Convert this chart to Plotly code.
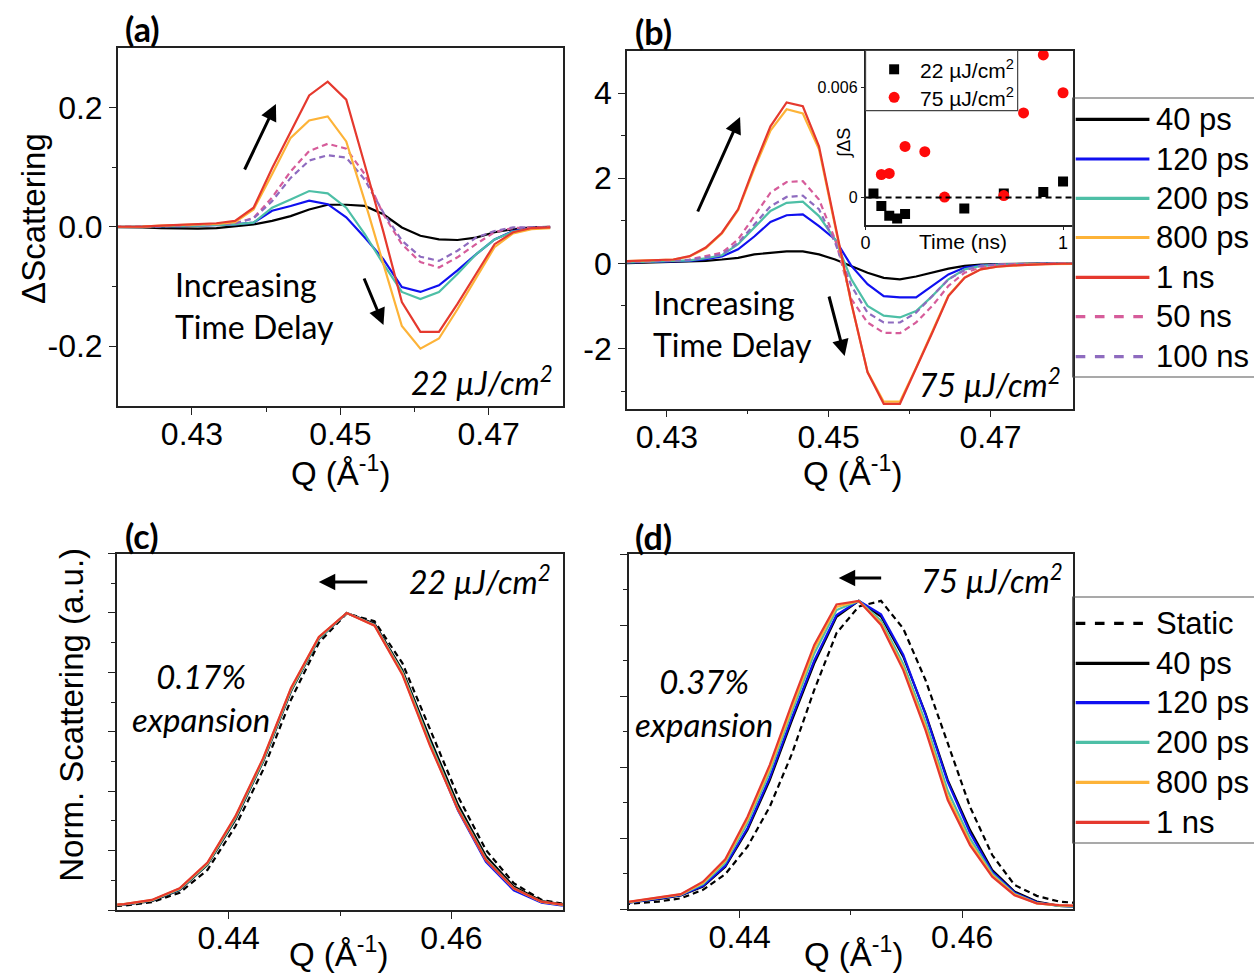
import plotly.graph_objects as go

# ---------------- data ----------------
# Panel (a): 22 uJ/cm2, difference scattering
q_a = [0.4183, 0.4208, 0.4233, 0.4258, 0.4283, 0.4308, 0.4333, 0.4358, 0.4383, 0.4408, 0.4433, 0.4458,
       0.4483, 0.4508, 0.4533, 0.4558, 0.4583, 0.4608, 0.4633, 0.4658, 0.4683, 0.4708, 0.4733, 0.4758, 0.4783]
a_40ps = [0, 0, -0.001, -0.002, -0.003, -0.003, -0.002, 0.001, 0.004, 0.010, 0.018, 0.029, 0.037, 0.037, 0.035,
          0.021, -0.001, -0.015, -0.021, -0.022, -0.018, -0.009, -0.004, -0.001, 0]
a_120ps = [0, 0, 0, 0.0005, 0.001, 0.002, 0.003, 0.004, 0.007, 0.027, 0.035, 0.044, 0.038, 0.016, -0.018,
           -0.054, -0.101, -0.109, -0.098, -0.073, -0.046, -0.021, -0.007, -0.002, -0.001]
a_200ps = [0, 0, 0, 0.0005, 0.001, 0.002, 0.003, 0.004, 0.007, 0.032, 0.046, 0.060, 0.056, 0.032, -0.012,
           -0.062, -0.109, -0.121, -0.109, -0.079, -0.046, -0.021, -0.008, -0.003, -0.001]
a_800ps = [0, 0, 0.0005, 0.002, 0.003, 0.004, 0.005, 0.008, 0.029, 0.088, 0.149, 0.178, 0.185, 0.143, 0.043,
           -0.062, -0.166, -0.204, -0.187, -0.138, -0.086, -0.034, -0.011, -0.004, -0.002]
a_1ns = [0, 0, 0.0005, 0.002, 0.003, 0.004, 0.006, 0.010, 0.032, 0.098, 0.159, 0.220, 0.243, 0.213, 0.104,
         -0.008, -0.126, -0.176, -0.176, -0.129, -0.079, -0.029, -0.009, -0.002, -0.001]
a_50ns = [0, 0, 0, 0.001, 0.002, 0.003, 0.004, 0.006, 0.015, 0.049, 0.093, 0.127, 0.139, 0.131, 0.088,
          0.021, -0.029, -0.059, -0.068, -0.051, -0.029, -0.009, -0.002, -0.001, 0]
a_100ns = [0, 0, 0, 0.001, 0.002, 0.003, 0.004, 0.006, 0.014, 0.043, 0.082, 0.111, 0.120, 0.116, 0.079,
           0.024, -0.023, -0.050, -0.057, -0.040, -0.018, -0.007, -0.001, -0.001, -0.001]

# Panel (b): 75 uJ/cm2, difference scattering
q_b = [0.4248, 0.4268, 0.4288, 0.4308, 0.4328, 0.4348, 0.4368, 0.4388, 0.4408, 0.4428, 0.4448, 0.4468,
       0.4488, 0.4508, 0.4528, 0.4548, 0.4568, 0.4588, 0.4608, 0.4628, 0.4648, 0.4668, 0.4688, 0.4708,
       0.4728, 0.4748, 0.4768, 0.4788, 0.4808]
b_40ps = [0, 0.01, 0.02, 0.03, 0.04, 0.06, 0.09, 0.13, 0.21, 0.25, 0.28, 0.28, 0.21, 0.09, -0.06, -0.22,
          -0.34, -0.375, -0.31, -0.22, -0.125, -0.06, -0.03, -0.02, -0.01, -0.01, 0, 0, 0]
b_120ps = [0.02, 0.03, 0.03, 0.04, 0.06, 0.10, 0.16, 0.33, 0.63, 0.97, 1.13, 1.15, 0.875, 0.56, -0.06, -0.49,
           -0.77, -0.80, -0.80, -0.53, -0.26, -0.10, -0.05, -0.03, -0.02, -0.01, 0, 0, 0]
b_200ps = [0.02, 0.03, 0.04, 0.05, 0.07, 0.12, 0.19, 0.45, 0.84, 1.23, 1.42, 1.45, 1.11, 0.56, -0.375, -1.00,
           -1.23, -1.27, -1.12, -0.77, -0.375, -0.14, -0.06, -0.03, -0.02, -0.01, 0, 0, 0]
b_800ps = [0.05, 0.06, 0.07, 0.09, 0.16, 0.35, 0.70, 1.25, 2.22, 3.12, 3.62, 3.52, 2.68, 0.85, -0.95, -2.55,
           -3.25, -3.25, -2.45, -1.60, -0.75, -0.33, -0.14, -0.08, -0.05, -0.03, -0.02, -0.01, -0.01]
b_1ns = [0.05, 0.06, 0.08, 0.09, 0.17, 0.37, 0.72, 1.27, 2.28, 3.22, 3.78, 3.69, 2.75, 0.89, -0.93, -2.56,
         -3.30, -3.30, -2.48, -1.63, -0.77, -0.34, -0.14, -0.08, -0.05, -0.03, -0.02, -0.01, -0.01]
b_50ns = [0.03, 0.04, 0.05, 0.07, 0.09, 0.17, 0.25, 0.56, 1.11, 1.66, 1.91, 1.93, 1.50, 0.56, -0.84, -1.39,
          -1.63, -1.64, -1.39, -1.00, -0.53, -0.22, -0.10, -0.03, -0.02, -0.01, 0, 0, 0]
b_100ns = [0.03, 0.04, 0.05, 0.06, 0.08, 0.14, 0.21, 0.48, 0.91, 1.34, 1.56, 1.59, 1.27, 0.48, -0.53, -1.16,
           -1.39, -1.39, -1.16, -0.77, -0.375, -0.16, -0.06, -0.03, -0.02, -0.01, 0, 0, 0]

# Inset: integrated difference signal vs time
t_22 = [0.04, 0.08, 0.12, 0.16, 0.20, 0.50, 0.70, 0.90, 1.00]
s_22 = [0.00022, -0.00047, -0.0010, -0.00115, -0.0009, -0.0006, 0.00022, 0.0003, 0.00087]
t_75 = [0.08, 0.12, 0.20, 0.30, 0.40, 0.70, 0.80, 0.90, 1.00]
s_75 = [0.00125, 0.00131, 0.00278, 0.00249, 0.00002, 0.0001, 0.0046, 0.00776, 0.0057]

# Panel (c): 22 uJ/cm2, normalized scattering
q_c = [0.4281, 0.4306, 0.4331, 0.4356, 0.4381, 0.4406, 0.4431, 0.4456, 0.4481, 0.4506, 0.4531, 0.4556,
       0.4581, 0.4606, 0.4631, 0.4656, 0.4681, 0.4706]
c_static = [0.011, 0.015, 0.026, 0.058, 0.135, 0.281, 0.472, 0.708, 0.899, 0.998, 0.972, 0.831, 0.607, 0.382,
            0.202, 0.090, 0.034, 0.017]
c_40ps = [0.013, 0.018, 0.030, 0.067, 0.152, 0.303, 0.500, 0.736, 0.912, 1.000, 0.964, 0.807, 0.575, 0.354,
          0.182, 0.079, 0.030, 0.016]
c_120ps = [0.013, 0.019, 0.032, 0.070, 0.156, 0.310, 0.505, 0.742, 0.915, 1.000, 0.960, 0.798, 0.558, 0.335,
           0.162, 0.066, 0.025, 0.012]
c_200ps = [0.013, 0.019, 0.032, 0.070, 0.155, 0.308, 0.503, 0.740, 0.914, 1.000, 0.960, 0.800, 0.562, 0.342,
           0.172, 0.074, 0.028, 0.014]
c_800ps = [0.013, 0.020, 0.033, 0.072, 0.158, 0.313, 0.509, 0.745, 0.918, 1.000, 0.958, 0.795, 0.554, 0.338,
           0.168, 0.072, 0.027, 0.014]
c_1ns = [0.013, 0.020, 0.034, 0.073, 0.160, 0.315, 0.511, 0.747, 0.919, 1.000, 0.957, 0.792, 0.551, 0.337,
         0.169, 0.073, 0.028, 0.015]

# Panel (d): 75 uJ/cm2, normalized scattering
q_d = [0.4287, 0.4307, 0.4327, 0.4347, 0.4367, 0.4387, 0.4407, 0.4427, 0.4447, 0.4467, 0.4487, 0.4507,
       0.4527, 0.4547, 0.4567, 0.4587, 0.4607, 0.4627, 0.4647, 0.4667, 0.4687, 0.4707]
d_static = [0.011, 0.016, 0.021, 0.030, 0.054, 0.098, 0.176, 0.288, 0.438, 0.617, 0.777, 0.852, 0.868, 0.790,
            0.645, 0.467, 0.288, 0.152, 0.068, 0.037, 0.021, 0.016]
d_40ps = [0.013, 0.020, 0.028, 0.038, 0.063, 0.119, 0.223, 0.363, 0.532, 0.692, 0.823, 0.868, 0.824, 0.711,
          0.551, 0.363, 0.223, 0.110, 0.049, 0.021, 0.009, 0.007]
d_120ps = [0.013, 0.020, 0.029, 0.039, 0.065, 0.122, 0.228, 0.370, 0.540, 0.700, 0.828, 0.868, 0.830, 0.716,
           0.548, 0.358, 0.215, 0.105, 0.046, 0.019, 0.009, 0.007]
d_200ps = [0.013, 0.021, 0.031, 0.040, 0.070, 0.130, 0.243, 0.386, 0.557, 0.720, 0.842, 0.868, 0.812, 0.690,
           0.527, 0.333, 0.199, 0.100, 0.043, 0.017, 0.009, 0.007]
d_800ps = [0.014, 0.022, 0.032, 0.041, 0.074, 0.136, 0.252, 0.396, 0.568, 0.733, 0.851, 0.868, 0.805, 0.680,
           0.514, 0.318, 0.188, 0.095, 0.041, 0.016, 0.010, 0.008]
d_1ns = [0.014, 0.023, 0.033, 0.042, 0.077, 0.140, 0.260, 0.406, 0.579, 0.744, 0.858, 0.868, 0.800, 0.673,
         0.504, 0.307, 0.180, 0.091, 0.039, 0.016, 0.011, 0.009]

labels_top = ["40 ps", "120 ps", "200 ps", "800 ps", "1 ns", "50 ns", "100 ns"]
labels_bot = ["Static", "40 ps", "120 ps", "200 ps", "800 ps", "1 ns"]
inset_labels = ["22 \u00b5J/cm<sup>2</sup>", "75 \u00b5J/cm<sup>2</sup>"]

# ---------------- styles ----------------
C = {"40 ps": "#000000", "120 ps": "#1010F0", "200 ps": "#4DBFA6", "800 ps": "#FDB338",
     "1 ns": "#E5392E", "50 ns": "#D65C9A", "100 ns": "#8E6BBF", "Static": "#000000"}
DASHED = {"50 ns", "100 ns", "Static"}

W, H = 1254, 975
def px(x):
    return x / W
def py(y):
    return 1 - y / H

SANS = "Liberation Sans, Arial, sans-serif"
HUM = "Lato, Carlito, Calibri, sans-serif"

fig = go.Figure()

def add_line(x, y, name, xa, ya, width=2.2):
    dash = "6px,4px" if name in DASHED else "solid"
    fig.add_trace(go.Scatter(x=x, y=y, mode="lines", name=name, showlegend=False,
                             line=dict(color=C[name], width=width, dash=dash),
                             xaxis=xa, yaxis=ya))

for name, ys in [("40 ps", a_40ps), ("120 ps", a_120ps), ("200 ps", a_200ps), ("50 ns", a_50ns),
                 ("100 ns", a_100ns), ("800 ps", a_800ps), ("1 ns", a_1ns)]:
    add_line(q_a, ys, name, "x", "y")
for name, ys in [("40 ps", b_40ps), ("120 ps", b_120ps), ("200 ps", b_200ps), ("50 ns", b_50ns),
                 ("100 ns", b_100ns), ("800 ps", b_800ps), ("1 ns", b_1ns)]:
    add_line(q_b, ys, name, "x2", "y2")
for name, ys in [("Static", c_static), ("40 ps", c_40ps), ("120 ps", c_120ps), ("200 ps", c_200ps),
                 ("800 ps", c_800ps), ("1 ns", c_1ns)]:
    add_line(q_c, ys, name, "x4", "y4")
for name, ys in [("Static", d_static), ("40 ps", d_40ps), ("120 ps", d_120ps), ("200 ps", d_200ps),
                 ("800 ps", d_800ps), ("1 ns", d_1ns)]:
    add_line(q_d, ys, name, "x5", "y5")

fig.add_trace(go.Scatter(x=t_22, y=s_22, mode="markers", name=inset_labels[0], showlegend=False,
                         marker=dict(symbol="square", size=10, color="#000000"), xaxis="x3", yaxis="y3"))
fig.add_trace(go.Scatter(x=t_75, y=s_75, mode="markers", name=inset_labels[1], showlegend=False,
                         marker=dict(symbol="circle", size=11, color="#FF0A0A"), xaxis="x3", yaxis="y3"))

axis_common = dict(showline=True, linecolor="#222222", linewidth=1.6, mirror=True, showgrid=False,
                   zeroline=False, ticks="outside", ticklen=7, tickwidth=1.4, tickcolor="#222222",
                   tickfont=dict(family=SANS, size=32, color="#000000"))

def minor(vals, ln=4):
    return dict(tickvals=vals, ticks="outside", ticklen=ln, tickwidth=1.3, tickcolor="#222222", showgrid=False)

XSTAND = -8
layout = dict(
    width=W, height=H, margin=dict(l=0, r=0, t=0, b=0),
    paper_bgcolor="white", plot_bgcolor="white", showlegend=False,
    font=dict(family=SANS, color="#000000"),
    xaxis=dict(axis_common, domain=[px(113.3), px(560)], range=[0.42, 0.48], anchor="y",
               tickmode="array", tickvals=[0.43, 0.45, 0.47], ticktext=["0.43", "0.45", "0.47"],
               ticklabelstandoff=XSTAND, minor=minor([0.44, 0.46])),
    yaxis=dict(axis_common, domain=[py(406), py(47.7)], range=[-0.3, 0.3], anchor="x",
               tickmode="array", tickvals=[-0.2, 0, 0.2], ticktext=["-0.2", "0.0", "0.2"],
               minor=minor([-0.1, 0.1])),
    xaxis2=dict(axis_common, domain=[px(624.5), px(1072)], range=[0.42507, 0.48016], anchor="y2",
                tickmode="array", tickvals=[0.43, 0.45, 0.47], ticktext=["0.43", "0.45", "0.47"],
                ticklabelstandoff=XSTAND, minor=minor([0.44, 0.46])),
    yaxis2=dict(axis_common, domain=[py(408.5), py(50.5)], range=[-3.41, 5.0], anchor="x2",
                tickmode="array", tickvals=[-2, 0, 2, 4], ticktext=["-2", "0", "2", "4"],
                minor=minor([-3, -1, 1, 3])),
    xaxis3=dict(axis_common, domain=[px(864), px(1072)], range=[0, 1.049], anchor="y3",
                tickmode="array", tickvals=[0, 1], ticktext=["0", "1"], ticklen=3,
                ticklabelstandoff=-2,
                tickfont=dict(family=SANS, size=18, color="#000000")),
    yaxis3=dict(axis_common, domain=[py(225), py(50.5)], range=[-0.0015, 0.0080], anchor="x3",
                tickmode="array", tickvals=[0, 0.006], ticktext=["0", "0.006"], ticklen=3,
                tickfont=dict(family=SANS, size=16, color="#000000")),
    xaxis4=dict(axis_common, domain=[px(112.7), px(560)], range=[0.43, 0.47], anchor="y4",
                tickmode="array", tickvals=[0.44, 0.46], ticktext=["0.44", "0.46"],
                ticklabelstandoff=XSTAND, minor=minor([0.45])),
    yaxis4=dict(axis_common, domain=[py(910), py(553.5)], range=[0, 1.2], anchor="x4",
                tickmode="array", tickvals=[0, 0.2, 0.4, 0.6, 0.8, 1.0, 1.2], showticklabels=False,
                minor=minor([0.1, 0.3, 0.5, 0.7, 0.9, 1.1])),
    xaxis5=dict(axis_common, domain=[px(626), px(1072.7)], range=[0.43, 0.47], anchor="y5",
                tickmode="array", tickvals=[0.44, 0.46], ticktext=["0.44", "0.46"],
                ticklabelstandoff=XSTAND, minor=minor([0.45])),
    yaxis5=dict(axis_common, domain=[py(909), py(554)], range=[0, 1.0], anchor="x5",
                tickmode="array", tickvals=[0, 0.2, 0.4, 0.6, 0.8, 1.0], showticklabels=False,
                minor=minor([0.1, 0.3, 0.5, 0.7, 0.9])),
)
fig.update_layout(**layout)

ann = []
shapes = []

def text(x, y, s, size, family=SANS, xanchor="center", yanchor="middle", angle=0, align="center"):
    ann.append(dict(x=px(x), y=py(y), xref="paper", yref="paper", text=s, showarrow=False,
                    xanchor=xanchor, yanchor=yanchor, textangle=angle, align=align,
                    font=dict(family=family, size=size, color="#000000")))

def arrow(tx, ty, hx, hy):
    ann.append(dict(x=px(hx), y=py(hy), xref="paper", yref="paper", ax=tx - hx, ay=ty - hy,
                    axref="pixel", ayref="pixel", text="", showarrow=True, arrowhead=2,
                    arrowsize=1.1, arrowwidth=3, arrowcolor="#000000", standoff=0, startstandoff=0))

# panel labels
text(138, 28, "<b>(a)</b>", 34, HUM)
text(651, 31, "<b>(b)</b>", 34, HUM)
text(137, 535, "<b>(c)</b>", 34, HUM)
text(651, 536, "<b>(d)</b>", 34, HUM)

# axis titles
Q_T = "Q (\u00c5<sup>-1</sup>)"
text(28, 218, "\u0394Scattering", 33, angle=-90)
text(337, 471, Q_T, 33)
text(851, 471, Q_T, 33)
text(66, 715, "Norm. Scattering (a.u.)", 33, angle=-90)
text(335, 975, Q_T, 33, yanchor="bottom")
text(852, 975, Q_T, 33, yanchor="bottom")

# inset axis titles
text(842, 143, "\u222b\u0394S", 18, angle=-90)
text(962, 242, "Time (ns)", 21)

# panel annotations
text(169, 305, "Increasing<br>Time Delay", 32, HUM, xanchor="left", align="left")
text(649, 323, "Increasing<br>Time Delay", 32, HUM, xanchor="left", align="left")
text(552, 381, "<i>22 \u00b5J/cm<sup>2</sup></i>", 32, HUM, xanchor="right")
text(1062, 383, "<i>75 \u00b5J/cm<sup>2</sup></i>", 32, HUM, xanchor="right")
text(550, 580, "<i>22 \u00b5J/cm<sup>2</sup></i>", 32, HUM, xanchor="right")
text(1064, 579, "<i>75 \u00b5J/cm<sup>2</sup></i>", 32, HUM, xanchor="right")
text(197, 697, "<i>0.17%<br>expansion</i>", 33, HUM)
text(702, 702, "<i>0.37%<br>expansion</i>", 33, HUM)

arrow(240, 171, 272, 104)
arrow(360, 277, 380, 325)
arrow(695, 213, 738, 117)
arrow(827, 295, 843, 356)
arrow(365, 582, 315, 582)
arrow(881, 578, 837, 578)

# legend boxes (drawn as annotations + shapes)
def legend_block(top, bottom, ys, names):
    shapes.append(dict(type="rect", xref="paper", yref="paper", x0=px(1072), x1=px(1262),
                       y0=py(bottom), y1=py(top), line=dict(color="#555555", width=1.2),
                       fillcolor="rgba(0,0,0,0)", layer="above"))
    for yy, nm in zip(ys, names):
        shapes.append(dict(type="line", xref="paper", yref="paper", x0=px(1075), x1=px(1149),
                           y0=py(yy), y1=py(yy), layer="above",
                           line=dict(color=C[nm], width=3.2, dash="dash" if nm in DASHED else "solid")))
        text(1154, yy, nm, 31, xanchor="left")

legend_block(98, 377, [119.3, 159, 198.3, 237.5, 277.3, 316.7, 356.7], labels_top)
legend_block(597, 843, [623.3, 663.3, 702.7, 742.3, 782.3, 822.3], labels_bot)

# inset legend
shapes.append(dict(type="rect", xref="paper", yref="paper", x0=px(864), x1=px(1016.7),
                   y0=py(110.7), y1=py(50.5), line=dict(color="#444444", width=1.2),
                   fillcolor="rgba(0,0,0,0)", layer="above"))
shapes.append(dict(type="rect", xref="paper", yref="paper", x0=px(887.7), x1=px(897.7),
                   y0=py(74.3), y1=py(64.3), line=dict(width=0), fillcolor="#000000", layer="above"))
shapes.append(dict(type="circle", xref="paper", yref="paper", x0=px(887.2), x1=px(898.2),
                   y0=py(102.8), y1=py(91.8), line=dict(width=0), fillcolor="#FF0A0A", layer="above"))
text(917, 69, inset_labels[0], 21, xanchor="left")
text(917, 97, inset_labels[1], 21, xanchor="left")

# inset zero line
shapes.append(dict(type="line", xref="x3 domain", yref="y3", x0=0, x1=1, y0=0, y1=0,
                   line=dict(color="#000000", width=2, dash="6px,4px"), layer="above"))

fig.update_layout(annotations=ann, shapes=shapes)
fig.write_html("out.html", config={"displayModeBar": False},
               post_script="document.body.style.margin='0px';document.body.style.overflow='hidden';")
